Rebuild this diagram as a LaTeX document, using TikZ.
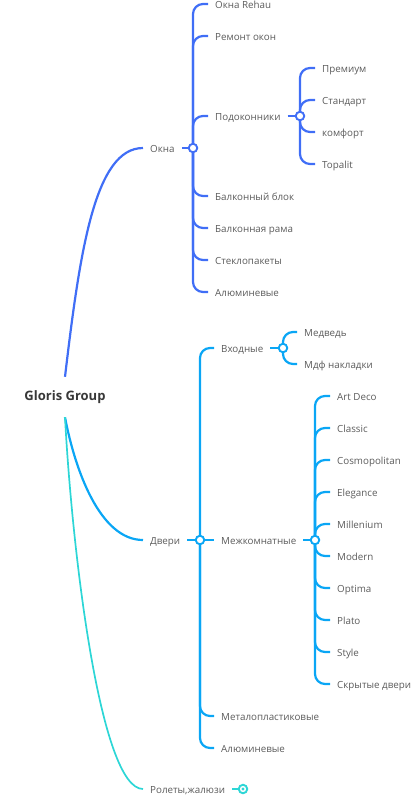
\documentclass[tikz,border=0pt]{standalone}
\usepackage{fontspec}
\setmainfont{Open Sans}
\usetikzlibrary{positioning}
\definecolor{okblue}{HTML}{406EF6}
\definecolor{doorblue}{HTML}{0AA6F5}
\definecolor{rollteal}{HTML}{2DD6D6}
\definecolor{ink}{HTML}{5B5B5B}
\tikzset{root/.style={font=\fontsize{13}{15}\selectfont\bfseries,text=black!78,minimum height=40pt,inner sep=0pt}, topic/.style={anchor=west,font=\fontsize{9.8}{11}\selectfont,text=ink,inner xsep=7pt,inner ysep=0pt,text height=10pt,text depth=2pt}, branch/.style={line width=2.2pt,rounded corners=10pt}, knot/.style={circle,draw,fill=white,line width=1.9pt,minimum size=8.5pt,inner sep=0pt}}

\begin{document}
\begin{tikzpicture}[x=1pt,y=-1pt]
\useasboundingbox (0,0) rectangle (414,807);
\node[root] (gloris) at (65,397) {Gloris Group};
% Окна
\node[topic] (okna) at (143,148) {Окна};
\node[knot,draw=okblue] (oknaK) at (193,148) {};
\node[topic] (rehau) at (208,4) {Окна Rehau};
\node[topic] (remont) at (208,36) {Ремонт окон};
\node[topic] (podok) at (208,116) {Подоконники};
\node[topic] (balblok) at (208,196) {Балконный блок};
\node[topic] (balrama) at (208,228) {Балконная рама};
\node[topic] (steklo) at (208,260) {Стеклопакеты};
\node[topic] (alum) at (208,292) {Алюминевые};
\node[knot,draw=okblue] (podokK) at (300,116) {};
\node[topic] (premium) at (315,68) {Премиум};
\node[topic] (standart) at (315,100) {Стандарт};
\node[topic] (komfort) at (315,132) {комфорт};
\node[topic] (topalit) at (315,164) {Topalit};
% Двери
\node[topic] (dveri) at (143,540) {Двери};
\node[knot,draw=doorblue] (dveriK) at (200,540) {};
\node[topic] (vhod) at (214,348) {Входные};
\node[topic] (mezh) at (214,540) {Межкомнатные};
\node[topic] (metal) at (214,716) {Металопластиковые};
\node[topic] (alum2) at (214,748) {Алюминевые};
\node[knot,draw=doorblue] (vhodK) at (283,348) {};
\node[topic] (medved) at (297,332) {Медведь};
\node[topic] (mdf) at (297,364) {Мдф накладки};
\node[knot,draw=doorblue] (mezhK) at (315,540) {};
\node[topic] (artdeco) at (330,396) {Art Deco};
\node[topic] (classic) at (330,428) {Classic};
\node[topic] (cosmo) at (330,460) {Cosmopolitan};
\node[topic] (elegance) at (330,492) {Elegance};
\node[topic] (millen) at (330,524) {Millenium};
\node[topic] (modern) at (330,556) {Modern};
\node[topic] (optima) at (330,588) {Optima};
\node[topic] (plato) at (330,620) {Plato};
\node[topic] (style) at (330,652) {Style};
\node[topic] (skryt) at (330,684) {Скрытые двери};
% Ролеты
\node[topic] (rolety) at (143,789) {Ролеты,жалюзи};
\node[knot,draw=rollteal] (rolK) at (243,789) {};
\fill[rollteal] (rolK.center) circle (1.6);
% root branches
\draw[branch,okblue] (gloris.north) .. controls (80,250) and (95,148) .. (okna.west);
\draw[branch,doorblue] (gloris.south) .. controls (75,470) and (100,540) .. (dveri.west);
\draw[line width=1.7pt,rollteal] (gloris.south) .. controls (72,550) and (100,789) .. (rolety.west);
% Окна branches
\draw[branch,okblue] (okna.east) -- (oknaK);
\draw[branch,okblue] (oknaK) |- (rehau.west);
\draw[branch,okblue] (oknaK) |- (remont.west);
\draw[branch,okblue] (oknaK) |- (podok.west);
\draw[branch,okblue] (oknaK) |- (balblok.west);
\draw[branch,okblue] (oknaK) |- (balrama.west);
\draw[branch,okblue] (oknaK) |- (steklo.west);
\draw[branch,okblue] (oknaK) |- (alum.west);
\draw[branch,okblue] (podok.east) -- (podokK);
\draw[branch,okblue] (podokK) |- (premium.west);
\draw[branch,okblue] (podokK) |- (standart.west);
\draw[branch,okblue] (podokK) |- (komfort.west);
\draw[branch,okblue] (podokK) |- (topalit.west);
% Двери branches
\draw[branch,doorblue] (dveri.east) -- (dveriK);
\draw[branch,doorblue] (dveriK) |- (vhod.west);
\draw[branch,doorblue] (dveriK) -- (mezh.west);
\draw[branch,doorblue] (dveriK) |- (metal.west);
\draw[branch,doorblue] (dveriK) |- (alum2.west);
\draw[branch,doorblue] (vhod.east) -- (vhodK);
\draw[branch,doorblue] (vhodK) |- (medved.west);
\draw[branch,doorblue] (vhodK) |- (mdf.west);
\draw[branch,doorblue] (mezh.east) -- (mezhK);
\draw[branch,doorblue] (mezhK) |- (artdeco.west);
\draw[branch,doorblue] (mezhK) |- (classic.west);
\draw[branch,doorblue] (mezhK) |- (cosmo.west);
\draw[branch,doorblue] (mezhK) |- (elegance.west);
\draw[branch,doorblue] (mezhK) |- (millen.west);
\draw[branch,doorblue] (mezhK) |- (modern.west);
\draw[branch,doorblue] (mezhK) |- (optima.west);
\draw[branch,doorblue] (mezhK) |- (plato.west);
\draw[branch,doorblue] (mezhK) |- (style.west);
\draw[branch,doorblue] (mezhK) |- (skryt.west);
\draw[line width=1.7pt,rollteal] (rolety.east) -- (rolK);
\end{tikzpicture}
\end{document}
